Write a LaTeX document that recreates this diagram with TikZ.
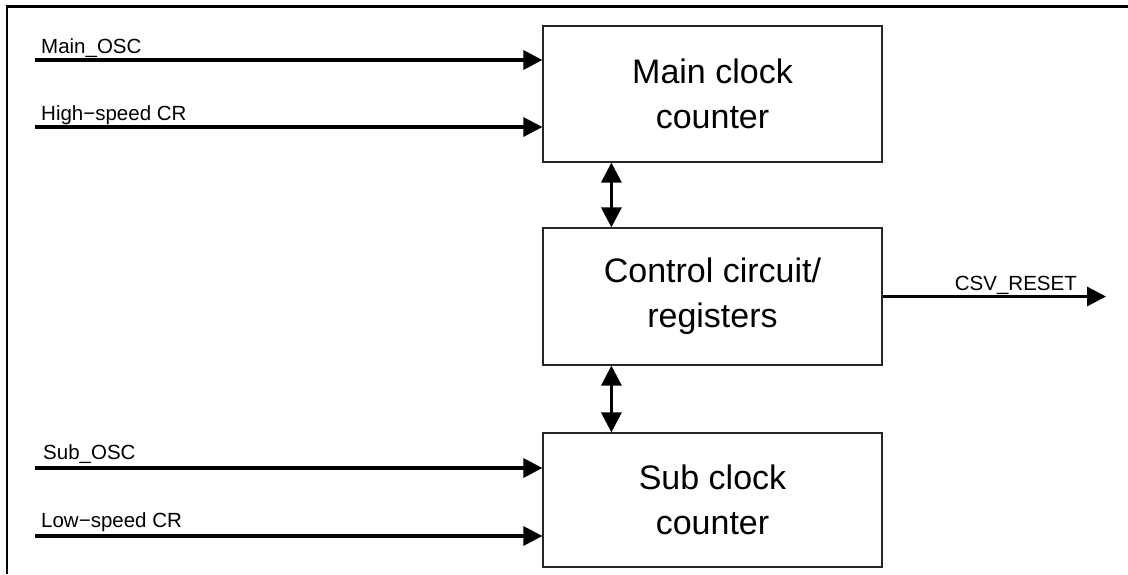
\documentclass[tikz,border=0pt]{standalone}
\usepackage{fontspec}
\setmainfont{Liberation Sans}
\usetikzlibrary{arrows.meta,calc}
\tikzset{
  blockbox/.style={draw=black!85, line width=1.2pt, minimum width=339pt, inner sep=0pt, align=center, font=\fontsize{34}{45}\selectfont},
  sigline/.style={line width=3.2pt, -{Triangle[length=19pt,width=19pt]}},
  biline/.style={line width=3.2pt, {Triangle[length=20pt,width=20pt]}-{Triangle[length=20pt,width=20pt]}},
  siglabel/.style={anchor=base west, inner sep=0pt, font=\fontsize{20.5}{24}\selectfont},
  framepen/.style={line width=2.2pt}
}
\begin{document}
\begin{tikzpicture}[x=1pt,y=-1pt]
\useasboundingbox (0,0) rectangle (1128,574);
% frame
\draw[framepen] (7,574) -- (7,6.5) -- (1128,6.5);
% blocks
\node[blockbox, minimum height=136pt] (main) at (712.5,94) {Main clock\\counter};
\node[blockbox, minimum height=137pt] (ctrl) at (712.5,296.5) {Control circuit/\\registers};
\node[blockbox, minimum height=134pt] (sub) at (712.5,500) {Sub clock\\counter};
% inputs
\coordinate (i1) at (35,60);
\coordinate (i2) at (35,127);
\coordinate (i3) at (35,468);
\coordinate (i4) at (35,536);
\draw[sigline] (i1) -- (i1 -| main.west);
\draw[sigline] (i2) -- (i2 -| main.west);
\draw[sigline] (i3) -- (i3 -| sub.west);
\draw[sigline] (i4) -- (i4 -| sub.west);
\node[siglabel] (l1) at (41,53) {Main\_OSC};
\node[siglabel] (l2) at (41,120) {High−speed CR};
\node[siglabel] (l3) at (43,459) {Sub\_OSC};
\node[siglabel] (l4) at (41,527) {Low−speed CR};
% bidirectional
\draw[biline] ($(main.south west)+(69,0)$) -- ($(ctrl.north west)+(69,0)$);
\draw[biline] ($(ctrl.south west)+(69,0)$) -- ($(sub.north west)+(69,0)$);
% output
\coordinate (o1) at (1106,296.5);
\draw[sigline] (ctrl.east) -- (o1);
\node[siglabel, anchor=base east] (lo) at (1077,290) {CSV\_RESET};
\end{tikzpicture}
\end{document}
